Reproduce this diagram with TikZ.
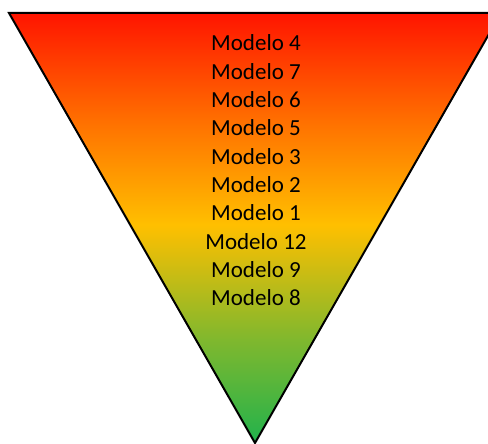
\documentclass[tikz,border=0pt]{standalone}
\usepackage{fontspec}
\setmainfont{Carlito}
\pgfdeclareverticalshading{funnel}{100bp}{%
  rgb(0bp)=(0.13,0.70,0.30);
  rgb(25bp)=(0.13,0.70,0.30);
  rgb(37bp)=(0.50,0.72,0.18);
  rgb(50.35bp)=(1,0.75,0);
  rgb(62bp)=(1,0.45,0);
  rgb(75bp)=(1,0.08,0);
  rgb(100bp)=(1,0.08,0)}
\tikzset{lbl/.style={anchor=base,inner sep=0pt,font=\fontsize{23}{28}\selectfont}}
\begin{document}
\begin{tikzpicture}[x=1pt,y=1pt]
\useasboundingbox (0,0) rectangle (488,444);
\coordinate (tl) at (9,431);
\coordinate (tr) at (501,431);
\coordinate (ap) at (255,1);
\shade[shading=funnel] (tl) -- (tr) -- (ap) -- cycle;
\draw[line width=2pt,line join=miter] (tl) -- (tr) -- (ap) -- cycle;
\foreach \t [count=\i from 0] in {4,7,6,5,3,2,1,12,9,8}{
  \node[lbl] (m\i) at (256,393-28.3*\i) {Modelo \t};
}
\end{tikzpicture}
\end{document}
